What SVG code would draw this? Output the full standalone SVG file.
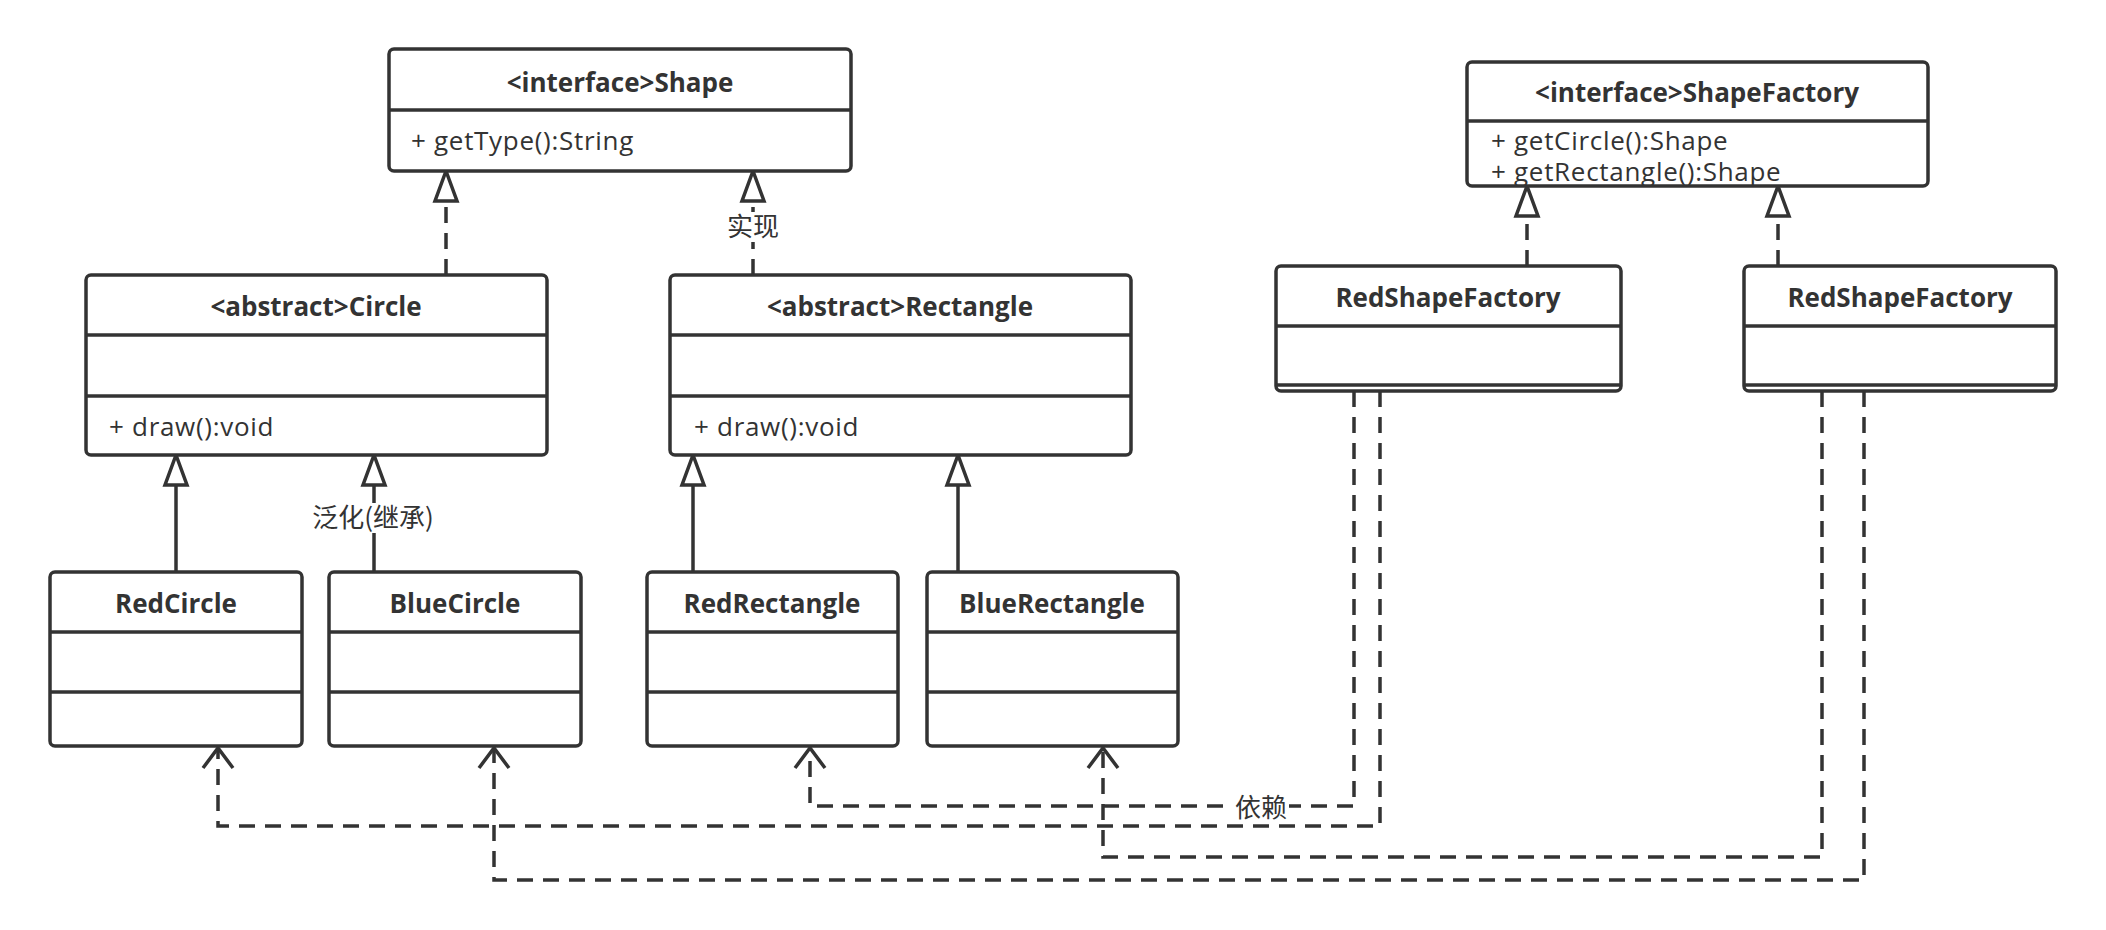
<svg xmlns="http://www.w3.org/2000/svg" width="2106" height="930" viewBox="0 0 2106 930">
<defs>
<style>
.box{fill:#fff;stroke:#333;stroke-width:3.5}
.div{stroke:#333;stroke-width:3.5;fill:none}
.ttl{font-family:"Open Sans","Noto Sans CJK SC",sans-serif;font-weight:bold;font-size:26px;fill:#333;text-anchor:middle}
.mth{font-family:"Open Sans","Noto Sans CJK SC",sans-serif;font-size:26px;letter-spacing:0.7px;fill:#333}
.lbl{font-family:"Noto Sans CJK SC","Open Sans",sans-serif;font-size:26px;fill:#333;text-anchor:middle}
.solid{stroke:#333;stroke-width:3.5;fill:none}
.dash{stroke:#333;stroke-width:3.5;fill:none;stroke-dasharray:16 10}
.lblbg{fill:#fff}
</style>
<marker id="tri" markerUnits="userSpaceOnUse" markerWidth="40" markerHeight="40" refX="0" refY="0" orient="auto" overflow="visible">
<path d="M0,0 L-30,-11 L-30,11 Z" fill="#fff" stroke="#333" stroke-width="3.5" stroke-linejoin="miter"/>
</marker>
<marker id="open" markerUnits="userSpaceOnUse" markerWidth="40" markerHeight="40" refX="0" refY="0" orient="auto" overflow="visible">
<path d="M-20,-15 L0,0 L-20,15" fill="none" stroke="#333" stroke-width="3.5"/>
</marker>
</defs>
<rect width="2106" height="930" fill="#fff"/>

<g id="connectors">
<path class="dash" d="M446,275 V171" marker-end="url(#tri)"/>
<path class="dash" d="M753,275 V171" marker-end="url(#tri)"/>
<path class="solid" d="M176,572 V455" marker-end="url(#tri)"/>
<path class="solid" d="M374,572 V455" marker-end="url(#tri)"/>
<path class="solid" d="M693,572 V455" marker-end="url(#tri)"/>
<path class="solid" d="M958,572 V455" marker-end="url(#tri)"/>
<path class="dash" d="M1527,266 V186" marker-end="url(#tri)"/>
<path class="dash" d="M1778,266 V186" marker-end="url(#tri)"/>
<path class="dash" d="M1354,391 V806 H810 V748" marker-end="url(#open)"/>
<path class="dash" d="M1380,391 V826 H218 V748" marker-end="url(#open)"/>
<path class="dash" d="M1822,391 V857 H1103 V748" marker-end="url(#open)"/>
<path class="dash" d="M1864,391 V880 H494 V748" marker-end="url(#open)"/>
<rect class="lblbg" x="725" y="212" width="56" height="30"/>
<text class="lbl" x="753" y="236">实现</text>
<rect class="lblbg" x="311" y="503" width="124" height="30"/>
<text class="lbl" x="373" y="527">泛化(继承)</text>
<rect class="lblbg" x="1233" y="795" width="56" height="27"/>
<text class="lbl" x="1261" y="817">依赖</text>
</g>

<g id="Shape">
<rect class="box" x="389" y="49" width="462" height="122" rx="5"/>
<line class="div" x1="389" y1="110" x2="851" y2="110"/>
<text class="ttl" x="620" y="92">&lt;interface&gt;Shape</text>
<text class="mth" x="411" y="150">+ getType():String</text>
</g>

<g id="Circle">
<rect class="box" x="86" y="275" width="461" height="180" rx="5"/>
<line class="div" x1="86" y1="335" x2="547" y2="335"/>
<line class="div" x1="86" y1="396" x2="547" y2="396"/>
<text class="ttl" x="316" y="316">&lt;abstract&gt;Circle</text>
<text class="mth" x="109" y="436">+ draw():void</text>
</g>

<g id="Rectangle">
<rect class="box" x="670" y="275" width="461" height="180" rx="5"/>
<line class="div" x1="670" y1="335" x2="1131" y2="335"/>
<line class="div" x1="670" y1="396" x2="1131" y2="396"/>
<text class="ttl" x="900" y="316">&lt;abstract&gt;Rectangle</text>
<text class="mth" x="694" y="436">+ draw():void</text>
</g>

<g id="RedCircle">
<rect class="box" x="50" y="572" width="252" height="174" rx="5"/>
<line class="div" x1="50" y1="632" x2="302" y2="632"/>
<line class="div" x1="50" y1="692" x2="302" y2="692"/>
<text class="ttl" x="176" y="613">RedCircle</text>
</g>

<g id="BlueCircle">
<rect class="box" x="329" y="572" width="252" height="174" rx="5"/>
<line class="div" x1="329" y1="632" x2="581" y2="632"/>
<line class="div" x1="329" y1="692" x2="581" y2="692"/>
<text class="ttl" x="455" y="613">BlueCircle</text>
</g>

<g id="RedRectangle">
<rect class="box" x="647" y="572" width="251" height="174" rx="5"/>
<line class="div" x1="647" y1="632" x2="898" y2="632"/>
<line class="div" x1="647" y1="692" x2="898" y2="692"/>
<text class="ttl" x="772" y="613">RedRectangle</text>
</g>

<g id="BlueRectangle">
<rect class="box" x="927" y="572" width="251" height="174" rx="5"/>
<line class="div" x1="927" y1="632" x2="1178" y2="632"/>
<line class="div" x1="927" y1="692" x2="1178" y2="692"/>
<text class="ttl" x="1052" y="613">BlueRectangle</text>
</g>

<g id="ShapeFactory">
<rect class="box" x="1467" y="62" width="461" height="124" rx="5"/>
<line class="div" x1="1467" y1="121" x2="1928" y2="121"/>
<text class="ttl" x="1697" y="102">&lt;interface&gt;ShapeFactory</text>
<text class="mth" x="1491" y="150">+ getCircle():Shape</text>
<text class="mth" x="1491" y="181">+ getRectangle():Shape</text>
</g>

<g id="RedShapeFactory1">
<rect class="box" x="1276" y="266" width="345" height="125" rx="5"/>
<line class="div" x1="1276" y1="326" x2="1621" y2="326"/>
<line class="div" x1="1276" y1="385" x2="1621" y2="385"/>
<text class="ttl" x="1448" y="307">RedShapeFactory</text>
</g>

<g id="RedShapeFactory2">
<rect class="box" x="1744" y="266" width="312" height="125" rx="5"/>
<line class="div" x1="1744" y1="326" x2="2056" y2="326"/>
<line class="div" x1="1744" y1="385" x2="2056" y2="385"/>
<text class="ttl" x="1900" y="307">RedShapeFactory</text>
</g>
</svg>
